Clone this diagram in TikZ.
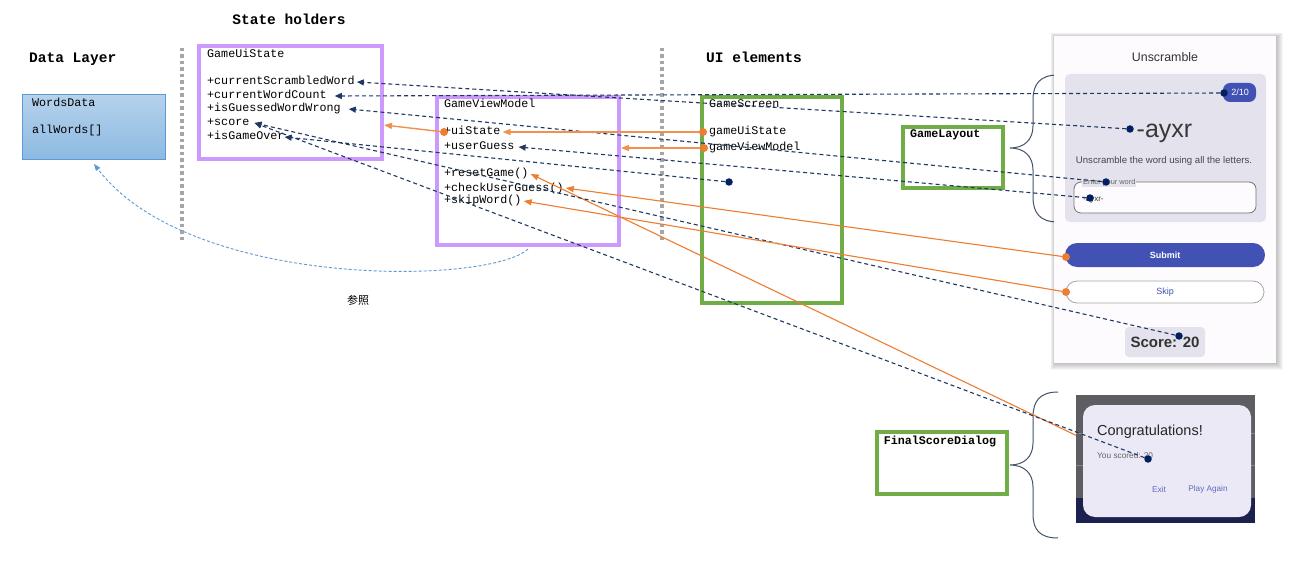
\documentclass[tikz,border=0pt]{standalone}
\usepackage{fontspec}
\setmainfont{Liberation Sans}
\setmonofont{Liberation Mono}
\newfontfamily\cjkfont{Noto Sans CJK SC}
\usetikzlibrary{positioning,arrows.meta}
\definecolor{umlpurple}{HTML}{CC99FF}
\definecolor{uigreen}{HTML}{70AD47}
\definecolor{refnavy}{HTML}{203864}
\definecolor{dotnavy}{HTML}{002060}
\definecolor{calorange}{HTML}{ED7D31}
\definecolor{datablue}{HTML}{5B9BD5}
\definecolor{mthreeblue}{HTML}{4152B4}
\definecolor{cardgray}{HTML}{E4E2EC}
\definecolor{phonebg}{HTML}{FDFBFE}
\definecolor{bracegray}{HTML}{44546A}
\definecolor{dialogbg}{HTML}{5E5D62}
\definecolor{dialogcard}{HTML}{EBE9F6}
\definecolor{navyband}{HTML}{1C2150}

\begin{document}
\begin{tikzpicture}[x=1pt,y=-1pt,
          every node/.style={inner sep=0pt},
          heading/.style={font=\ttfamily\bfseries\fontsize{14.5}{16}\selectfont},
          member/.style={anchor=west,font=\ttfamily\fontsize{11.7}{13}\selectfont,text height=8pt,text depth=2pt},
          boxtitle/.style={member,font=\ttfamily\bfseries\fontsize{11.7}{13}\selectfont},
          holder/.style={draw=umlpurple,line width=4pt,minimum width=#1,anchor=north west},
          uibox/.style={draw=uigreen,line width=4pt,minimum width=#1,anchor=north west},
          layersep/.style={draw=black!35,line width=3.5pt,dash pattern=on 3.5pt off 3pt},
          nline/.style={draw=refnavy,line width=1.1pt,dash pattern=on 4pt off 3pt,-{Triangle[length=7pt,width=6pt]}},
          oline/.style={draw=calorange,line width=1.1pt,-{Triangle[length=8pt,width=6pt]}},
          ndot/.style={circle,fill=dotnavy,minimum size=7.5pt},
          odot/.style={circle,fill=calorange,minimum size=8pt},
          bracepath/.style={draw=bracegray,line width=1pt},
          phonetxt/.style={font=\fontsize{#1}{#1}\selectfont},
        ]
        \fill[white] (0,0) rectangle (1316,564);
        \useasboundingbox (0,0) rectangle (1316,564);

        \node[heading,anchor=base] (hState) at (289,25) {State holders};
        \node[heading,anchor=base west] (hData) at (29,63) {Data Layer};
        \node[heading,anchor=base west] (hUi) at (706,63) {UI elements};
        \draw[layersep] (182,48) -- (182,243);
        \draw[layersep] (662,48) -- (662,243);

        \node[draw=datablue,line width=0.8pt,top color=datablue!45,bottom color=datablue!70,
              minimum width=143pt,minimum height=65pt,anchor=north west] (words) at (22,94) {};
        \node[member] (wdT) at (32,104) {WordsData};
        \node[member] (allw) at (32,131) {allWords[]};

        \node[holder=183pt,minimum height=113pt] (gus) at (197,44) {};
        \node[member] (gusT) at (207,55) {GameUiState};
        \foreach \n/\y/\t in {cur/82/+currentScrambledWord,cnt/96/+currentWordCount,
            wrong/109/+isGuessedWordWrong,score/123/+score,over/137/+isGameOver} {
          \node[member] (\n) at (207,\y) {\t};
        }

        \node[holder=182pt,minimum height=148pt] (gvm) at (435,95) {};
        \node[member] (gvmT) at (444,105) {GameViewModel};
        \foreach \n/\y/\t in {uis/132/+uiState,ug/147/+userGuess,reset/174/+resetGame(),
            check/188/+checkUserGuess(),skip/201/+skipWord()} {
          \node[member] (\n) at (444,\y) {\t};
        }

        \node[uibox=140pt,minimum height=206pt] (gsc) at (700,95) {};
        \node[member] (gscT) at (709,105) {GameScreen};
        \node[member] (gsUis) at (709,132) {gameUiState};
        \node[member] (gsVm) at (709,148) {gameViewModel};

        \node[uibox=100pt,minimum height=61pt] (glay) at (901,125) {};
        \node[boxtitle] (glayT) at (910,135) {GameLayout};
        \node[uibox=130pt,minimum height=62pt] (fsd) at (875,430) {};
        \node[boxtitle,anchor=center] (fsdT) at (940,441.5) {FinalScoreDialog};

        \draw[bracepath] (1058,75) .. controls (1040,75) and (1033,84) .. (1033,100) -- (1033,126)
          .. controls (1033,140) and (1024,148) .. (1010,148) .. controls (1024,148) and (1033,156) .. (1033,170)
          -- (1033,197) .. controls (1033,213) and (1040,222) .. (1058,222);
        \draw[bracepath] (1058,392) .. controls (1040,392) and (1033,401) .. (1033,417) -- (1033,443)
          .. controls (1033,457) and (1024,465) .. (1010,465) .. controls (1024,465) and (1033,473) .. (1033,487)
          -- (1033,514) .. controls (1033,530) and (1040,538) .. (1058,538);

        \foreach \k in {1,...,7}
          \fill[black,opacity=0.035] ({1055-0.6*\k},{37-0.6*\k}) rectangle ({1276+\k},{363+\k});
        \fill[phonebg] (1054,36) rectangle (1276,363);
        \node[phonetxt=12.4,text=black!80] (scrTitle) at (1165,57) {Unscramble};
        \fill[cardgray,rounded corners=5pt] (1065,74) rectangle (1266,222);
        \fill[mthreeblue,rounded corners=7pt] (1223,83) rectangle (1256,102);
        \node[phonetxt=9,text=white] (cntTxt) at (1240,92.5) {2/10};
        \node[phonetxt=25,text=black!78,anchor=base] (wordTxt) at (1164.5,138) {-ayxr};
        \node[phonetxt=9.6,text=black!72,anchor=base] (hintTxt) at (1164,164) {Unscramble the word using all the letters.};
        \draw[draw=black!55,line width=0.8pt,fill=phonebg,rounded corners=7pt] (1074,182) rectangle (1256,213);
        \node[phonetxt=7.4,text=black!60,fill=cardgray,inner sep=1pt,anchor=base west] (enterTxt) at (1082,184.5) {Enter your word};
        \node[phonetxt=8,text=black!80,anchor=base west] (guessTxt) at (1083,201) {-ayxr-};
        \fill[mthreeblue,rounded corners=12pt] (1065,243) rectangle (1265,267);
        \node[text=white,font=\bfseries\fontsize{9}{9}\selectfont] (submitTxt) at (1165,255) {Submit};
        \draw[black!35,line width=0.8pt,fill=white,rounded corners=11pt] (1066,281) rectangle (1264,303);
        \node[phonetxt=9,text=mthreeblue] (skipTxt) at (1165,292) {Skip};
        \fill[cardgray,rounded corners=4pt] (1125,327) rectangle (1205,357);
        \node[text=black!80,font=\bfseries\fontsize{15}{15}\selectfont] (scoreTxt) at (1165,342) {Score: 20};

        \coordinate (playAgain) at (1190,490);
        \draw[oline] (playAgain) -- ([xshift=2pt]reset.east);

        \fill[dialogbg] (1076,395) rectangle (1255,523);
        \draw[dialogbg!75!white,line width=0.6pt] (1076,433) -- (1255,433) (1076,465) -- (1255,465);
        \fill[navyband] (1076,498) rectangle (1255,523);
        \fill[dialogcard,rounded corners=12pt] (1083,405) rectangle (1251,517);
        \node[phonetxt=14.5,text=black!85,anchor=base west] (congTxt) at (1097,435) {Congratulations!};
        \node[phonetxt=8.3,text=black!60,anchor=base west] (finalTxt) at (1097,458) {You scored: 20};
        \node[phonetxt=8.4,text=mthreeblue!85] (exitTxt) at (1159,489) {Exit};
        \node[phonetxt=8.2,text=mthreeblue!85] (againTxt) at (1208,489) {Play Again};

        \draw[datablue,line width=0.9pt,dash pattern=on 3pt off 2pt,-{Triangle[length=7pt,width=5pt]}]
          ([yshift=-2pt]gvm.south) .. controls (490,285) and (190,290) .. ([yshift=-4pt]words.south);
        \node[font=\cjkfont\fontsize{11}{12}\selectfont] (refLbl) at (358,300) {参照};

        \node[ndot] (dCount) at (1224,93) {};
        \node[ndot] (dScr) at (1130,129) {};
        \node[ndot] (dEnter) at (1106,182) {};
        \node[ndot] (dGuess) at (1090,198) {};
        \node[ndot] (dScore) at (1179,336) {};
        \node[ndot] (dFinal) at (1148,459) {};
        \node[ndot] (dScreen) at (729,182) {};
        \draw[nline] (dScr) -- ([xshift=2pt]cur.east);
        \draw[nline] (dCount) -- ([xshift=8pt]cnt.east);
        \draw[nline] (dEnter) -- ([xshift=8pt]wrong.east);
        \draw[nline] (dScore) -- ([xshift=5pt]score.east);
        \draw[nline] (dFinal) -- ([xshift=5pt]score.east);
        \draw[nline] (dScreen) -- (over.east);
        \draw[nline] (dGuess) -- ([xshift=4pt]ug.east);

        \node[odot] (oUis) at (uis.west) {};
        \node[odot] (oGus) at (703,132) {};
        \node[odot] (oGvm) at (704,148) {};
        \node[odot] (oSubmit) at (1066,257) {};
        \node[odot] (oSkip) at (1066,292) {};
        \draw[oline,line width=1.4pt,calorange!85] (oUis) -- ([yshift=7pt]oUis.center -| gus.east);
        \draw[oline,line width=1.4pt,calorange!85] (oGus) -- ([xshift=2pt]uis.east);
        \draw[oline,line width=1.4pt,calorange!85] (oGvm) -- (oGvm.center -| gvm.east);
        \draw[oline] (oSubmit) -- ([xshift=2pt]check.east);
        \draw[oline] (oSkip) -- ([xshift=2pt]skip.east);
      \end{tikzpicture}
\end{document}
